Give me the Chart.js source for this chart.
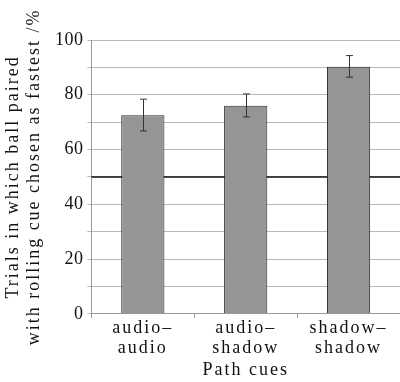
<!DOCTYPE html>
<html>
<head>
<meta charset="utf-8">
<script src="https://cdn.jsdelivr.net/npm/chart.js@4"></script>
<style>
  html, body { margin: 0; padding: 0; background: #fff; }
  #wrap { width: 400px; height: 382px; }
</style>
</head>
<body>
<div id="wrap"><canvas id="cueChart"></canvas></div>
<script>
// Path cue comparison, % trials with rolling-cue ball chosen as fastest

const categories = [['audio–', 'audio'], ['audio–', 'shadow'], ['shadow–', 'shadow']];
const meanValues = [72.5, 76, 90.2];
const errLow = [66.8, 71.9, 86.4];
const errHigh = [78.4, 80.3, 94.3];
const chanceLevel = 50;

// the original typesetting is letter-spaced, canvas can do that too
const spacingPlugin = {
    id: 'letterSpacing',
    beforeUpdate(chart) { chart.ctx.letterSpacing = '2px'; },
    beforeDraw(chart) { chart.ctx.letterSpacing = '2px'; },
    afterUpdate(chart) {
        const y = chart.scales.y;
        if (y && !y._spacedLabels) {
            const orig = y.drawLabels;
            y.drawLabels = function (area) {
                const ctx = this.ctx;
                ctx.letterSpacing = '0.5px';
                orig.call(this, area);
                ctx.letterSpacing = '2px';
            };
            y._spacedLabels = true;
        }
    }
};

// chance line, drawn under the bars
const chanceLinePlugin = {
    id: 'chanceLine',
    beforeDatasetsDraw(chart) {
        const { ctx, chartArea, scales } = chart;
        const y = Math.round(scales.y.getPixelForValue(chanceLevel));
        ctx.save();
        ctx.strokeStyle = '#111';
        ctx.lineWidth = 1.5;
        ctx.beginPath();
        ctx.moveTo(chartArea.left, y);
        ctx.lineTo(chartArea.right, y);
        ctx.stroke();
        ctx.restore();
    }
};

const errorBarPlugin = {
    id: 'errorBars',
    afterDatasetsDraw(chart) {
        const { ctx, scales } = chart;
        const meta = chart.getDatasetMeta(0);
        ctx.save();
        ctx.strokeStyle = '#333';
        ctx.lineWidth = 1;
        meta.data.forEach((bar, i) => {
            const x = Math.round(bar.x) + 0.5;
            const yTop = scales.y.getPixelForValue(errHigh[i]);
            const yBot = scales.y.getPixelForValue(errLow[i]);
            ctx.beginPath();
            ctx.moveTo(x, yTop);
            ctx.lineTo(x, yBot);
            ctx.moveTo(x - 3.5, yTop);
            ctx.lineTo(x + 3.5, yTop);
            ctx.moveTo(x - 3.5, yBot);
            ctx.lineTo(x + 3.5, yBot);
            ctx.stroke();
        });
        ctx.restore();
    }
};

const serif = 'Liberation Serif';

new Chart(document.getElementById('cueChart'), {
    type: 'bar',
    data: {
        labels: categories,
        datasets: [{
            data: meanValues,
            backgroundColor: '#959595',
            borderColor: '#2a2a2a',
            borderWidth: 1,
            barPercentage: 0.84,
            categoryPercentage: 0.5
        }]
    },
    options: {
        responsive: true,
        maintainAspectRatio: false,
        animation: false,
        layout: {
            padding: { top: 40, right: 0, left: 3, bottom: 1 }
        },
        plugins: {
            legend: { display: false },
            tooltip: { enabled: false }
        },
        scales: {
            x: {
                grid: {
                    drawOnChartArea: false,
                    drawTicks: true,
                    tickLength: 4,
                    color: '#999'
                },
                border: { color: '#999' },
                ticks: {
                    color: '#111',
                    font: { family: serif, size: 18, lineHeight: 1.1 },
                    padding: 1,
                    maxRotation: 0
                },
                title: {
                    display: true,
                    text: 'Path cues',
                    color: '#111',
                    font: { family: serif, size: 18 },
                    padding: { top: 0, bottom: 0 }
                }
            },
            y: {
                min: 0,
                max: 100,
                grid: {
                    color: '#b8b8b8',
                    tickLength: 4
                },
                border: { color: '#999' },
                ticks: {
                    stepSize: 10,
                    color: '#111',
                    font: { family: serif, size: 18 },
                    padding: 4,
                    callback: (v) => (v % 20 === 0 ? v : '')
                },
                title: {
                    display: true,
                    text: ['Trials in which ball paired', 'with rolling cue chosen as fastest /%'],
                    color: '#111',
                    font: { family: serif, size: 18, lineHeight: 1.15 },
                    padding: { top: 0, bottom: 2 }
                }
            }
        }
    },
    plugins: [spacingPlugin, chanceLinePlugin, errorBarPlugin]
});
</script>
</body>
</html>
